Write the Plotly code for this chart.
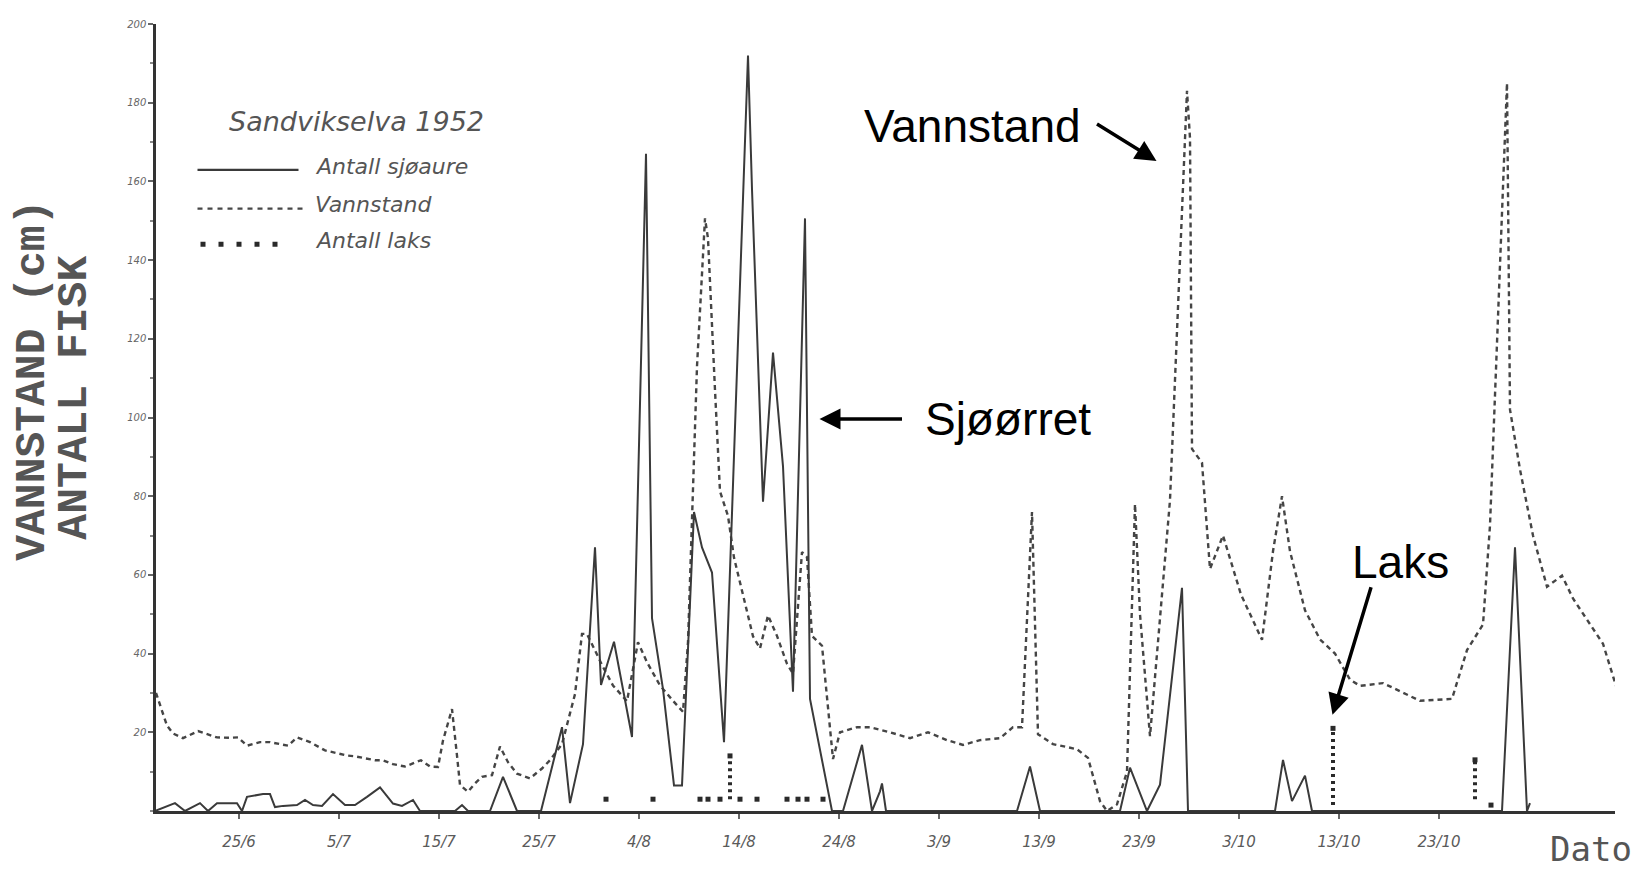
import pandas as pd
import plotly.graph_objects as go

YEAR_START = pd.Timestamp("1952-01-01")

# ---------------- data (x = day of year 1952) ----------------
vann_day = [168.7, 169.4, 169.8, 170.4, 171.4, 172.9, 174.8, 176.1, 176.9, 177.8, 179.1, 180.1,
            181.9, 182.8, 184.1, 185.6, 187.8, 188.6, 190.6, 191.4, 192.4, 193.6, 195.2, 196.1,
            196.9, 197.4, 198.3, 198.8, 199.1, 199.9, 200.6, 201.3, 202.3, 203.1, 203.9, 204.8,
            206.1, 207.3, 208.1, 209.3, 210.6, 211.3, 211.8, 213.4, 214.4, 215.8, 216.9, 217.8,
            219.1, 220.4, 221.4, 221.9, 222.3, 222.8, 223.6, 223.9, 224.6, 225.1, 225.9, 226.5,
            228.4, 229.1, 229.9, 230.8, 231.8, 232.4, 233.3, 233.8, 234.3, 235.3, 236.4, 237.1,
            238.8, 240.1, 242.1, 244.1, 245.9, 247.8, 249.4, 251.1, 253.1, 254.4, 255.3, 256.3,
            256.9, 258.4, 260.8, 261.9, 263.1, 263.8, 264.8, 265.8, 266.6, 267.1, 268.1, 269.1,
            270.1, 270.9, 271.8, 272.1, 272.3, 273.3, 274.1, 275.4, 277.2, 279.3, 280.4, 281.3,
            282.1, 283.6, 285.1, 286.6, 288.1, 289.1, 291.4, 292.4, 295.1, 298.3, 299.8, 301.4,
            302.1, 303.8, 304.1, 305.1, 306.4, 307.8, 309.3, 310.4, 312.1, 313.4, 314.8]
vann_cm = [30, 25, 21.7, 19.7, 18.5, 20.3, 18.7, 18.6, 18.7, 16.6, 17.5, 17.5,
           16.6, 18.7, 17.5, 15.4, 14.1, 13.9, 12.9, 12.9, 11.9, 11.3, 12.9, 11.3,
           11.2, 17.9, 25.9, 14.1, 6.6, 4.9, 7, 8.7, 9.1, 16.4, 12.4, 9.5,
           8.3, 10.8, 12.9, 17, 29.7, 45, 45, 36.6, 31.9, 27.9, 42.9, 37.8,
           31.9, 28, 25.2, 42.9, 74.7, 113, 150.6, 145.5, 107, 81.2, 75, 64.4,
           44.4, 41.3, 49.7, 44.5, 37.4, 34.9, 65.8, 64.5, 44.5, 42, 13.2, 20,
           21.3, 21.3, 20, 18.5, 20, 18, 16.8, 18, 18.5, 21.3, 21.3, 76,
           19.5, 17, 15.7, 13.5, 2.5, 0, 1.7, 10, 78, 50, 19, 50,
           79, 128, 183, 171, 92, 88.5, 61.5, 70, 55, 43.5, 66, 80,
           66, 51, 43.6, 40, 33.4, 31.8, 32.5, 31.3, 28, 28.5, 40.9, 47.4,
           72.6, 185, 102, 86.8, 70, 57, 59.8, 54, 47.4, 42.5, 31]

sjo_day = [168.6, 170.6, 171.6, 173.1, 173.9, 174.8, 176.8, 177.3, 177.8, 179.4, 180.1, 180.6,
           181.4, 182.8, 183.6, 184.4, 185.3, 186.4, 187.6, 188.6, 189.8, 191.1, 192.4, 193.3,
           194.4, 195.1, 198.6, 199.3, 199.9, 202.1, 203.4, 204.8, 207.2, 209.3, 210.1, 211.4,
           212.6, 213.2, 214.5, 215.1, 216.3, 217.7, 218.3, 219.4, 220.5, 221.3, 222.5, 223.3,
           224.3, 225.5, 227.9, 228.3, 229.4, 230.4, 231.4, 232.4, 233.6, 234.1, 236.3, 237.4,
           239.3, 240.3, 241.1, 241.3, 241.7, 254.8, 256.1, 257.1, 265.1, 266.1, 267.8, 269.1,
           271.3, 271.9, 280.6, 281.4, 282.3, 283.6, 284.3, 303.3, 304.6, 305.8, 306.1]
sjo_n = [0, 2, 0, 2, 0, 2, 2, 0, 3.6, 4.3, 4.3, 1,
         1.3, 1.5, 2.8, 1.5, 1.3, 4.3, 1.5, 1.5, 3.6, 6, 1.9, 1.3,
         2.8, 0, 0, 1.5, 0, 0, 8.7, 0, 0, 21.3, 2, 17,
         67, 32, 43, 35, 18.8, 167, 49, 31, 6.5, 6.5, 76, 67,
         60.6, 17.5, 192, 158, 78.6, 116.5, 87.6, 30.3, 150.6, 28.5, 0, 0,
         16.8, 0, 5, 7, 0, 0, 11.3, 0, 0, 11, 0, 6.7,
         56.7, 0, 0, 13, 2.5, 9, 0, 0, 67, 0, 2]

laks_day = [213.7, 218.4, 223.1, 223.9, 225.1, 226.1, 227.1, 228.8, 231.8, 232.9, 233.8, 235.4,
            286.4, 300.6, 302.2]
laks_n = [3, 3, 3, 3, 3, 14, 3, 3, 3, 3, 3, 3, 21, 13, 1.5]

tick_dates = ["1952-06-25", "1952-07-05", "1952-07-15", "1952-07-25", "1952-08-04", "1952-08-14",
              "1952-08-24", "1952-09-03", "1952-09-13", "1952-09-23", "1952-10-03", "1952-10-13",
              "1952-10-23"]
tick_text = ["25/6", "5/7", "15/7", "25/7", "4/8", "14/8", "24/8", "3/9", "13/9", "23/9",
             "3/10", "13/10", "23/10"]
y_ticks = [20, 40, 60, 80, 100, 120, 140, 160, 180, 200]
x_range_days = [168.7, 314.6]


def to_date(d):
    return (YEAR_START + pd.Timedelta(days=float(d) - 1)).isoformat()


INK = "#3a3a3a"
GREY = "#5a5a5a"

fig = go.Figure()

fig.add_trace(go.Scatter(
    x=[to_date(d) for d in vann_day], y=vann_cm, mode="lines", name="Vannstand",
    line=dict(color="#454545", width=2.4, dash="5px,4px"), showlegend=False))

fig.add_trace(go.Scatter(
    x=[to_date(d) for d in sjo_day], y=sjo_n, mode="lines", name="Antall sjøaure",
    line=dict(color=INK, width=2), showlegend=False))

# Antall laks: dotted stacks for larger counts, single dots otherwise
stem_x, stem_y = [], []
for d, n in zip(laks_day, laks_n):
    if n > 5:
        stem_x += [to_date(d), to_date(d), None]
        stem_y += [1.5 if n > 15 else 3, n, None]
fig.add_trace(go.Scatter(
    x=stem_x, y=stem_y, mode="lines", name="Antall laks",
    line=dict(color="#2a2a2a", width=4, dash="3px,4px"), showlegend=False))
fig.add_trace(go.Scatter(
    x=[to_date(d) for d in laks_day], y=laks_n, mode="markers", name="Antall laks",
    marker=dict(symbol="square", size=5, color="#2a2a2a"), showlegend=False))

# ---------------- layout ----------------
DX, DY = -7.5, -8          # small global shift of the page layout
L, R, T, B = 148, 44, 10, 66
W, H = 1651, 869
PW, PH = W - L - R, H - T - B


def px(x):
    return (x + DX - L) / PW


def py(y):
    return (H - B - (y + DY)) / PH


fig.update_layout(
    width=W, height=H,
    margin=dict(l=L, r=R, t=T, b=B),
    paper_bgcolor="white", plot_bgcolor="white",
    showlegend=False,
    xaxis=dict(
        type="date", range=[to_date(x_range_days[0]), to_date(x_range_days[1])],
        tickvals=tick_dates, ticktext=tick_text,
        showgrid=False, zeroline=False, showline=True, linecolor="#333", linewidth=2.5,
        ticks="outside", ticklen=5, tickwidth=1.5, tickcolor="#666",
        ticklabelstandoff=10,
        tickfont=dict(family="DejaVu Sans", size=15, color=GREY, style="italic")),
    yaxis=dict(
        range=[0, 200], tickvals=y_ticks, ticktext=[str(v) for v in y_ticks],
        showgrid=False, zeroline=False, showline=True, linecolor="#333", linewidth=2.5,
        ticks="outside", ticklen=5, tickwidth=1.5, tickcolor="#666",
        minor=dict(dtick=10, ticks="outside", ticklen=3, tickcolor="#888"),
        tickfont=dict(family="DejaVu Sans", size=10, color="#666", style="italic")),
)


def note(text, x, y, font, xanchor="center", **kw):
    return dict(text=text, x=px(x), y=py(y), xref="paper", yref="paper",
                xanchor=xanchor, yanchor="middle", showarrow=False, font=font, **kw)


ann = []
title_font = dict(family="Liberation Mono", size=43, color="#555", weight="bold")
ann.append(note("VANNSTAND (cm)", 32, 377, title_font, textangle=-90))
ann.append(note("ANTALL FISK", 74, 395, title_font, textangle=-90))
ann.append(note("Dato", 1590, 849, dict(family="DejaVu Sans Mono", size=34, color="#555")))

# legend box drawn in the plot
ann.append(note("Sandvikselva 1952", 356, 116,
                dict(family="DejaVu Sans", size=27, color="#555", style="italic")))
for label, ly in [("Antall sjøaure", 162), ("Vannstand", 200), ("Antall laks", 236)]:
    ann.append(note(label, 312, ly,
                    dict(family="DejaVu Sans", size=22, color="#555", style="italic"),
                    xanchor="left"))

shapes = [
    dict(type="line", xref="paper", yref="paper", x0=px(197), x1=px(298), y0=py(165), y1=py(165),
         line=dict(color=INK, width=2.2)),
    dict(type="line", xref="paper", yref="paper", x0=px(197), x1=px(305), y0=py(204), y1=py(204),
         line=dict(color="#474747", width=2.2, dash="5px,5px")),
    dict(type="line", xref="paper", yref="paper", x0=px(200), x1=px(282), y0=py(240), y1=py(240),
         line=dict(color="#2a2a2a", width=5, dash="5px,13px")),
]

# added labels with arrows
big = dict(family="Liberation Sans", size=46, color="black")
arrow = dict(showarrow=True, arrowhead=2, arrowsize=1.2, arrowwidth=3.5, arrowcolor="black",
             xref="paper", yref="paper", text="")
ann.append(note("Vannstand", 972, 121, big))
ann.append(dict(x=px(1156), y=py(156), ax=-61, ay=-38, **arrow))
ann.append(note("Sjøørret", 922, 416, big, xanchor="left"))
ann.append(dict(x=px(819), y=py(416), ax=84, ay=0, **arrow))
ann.append(note("Laks", 1400, 560, big))
ann.append(dict(x=px(1332), y=py(714), ax=39, ay=-129, **arrow))

fig.update_layout(annotations=ann, shapes=shapes)

fig.write_html("out.html")
